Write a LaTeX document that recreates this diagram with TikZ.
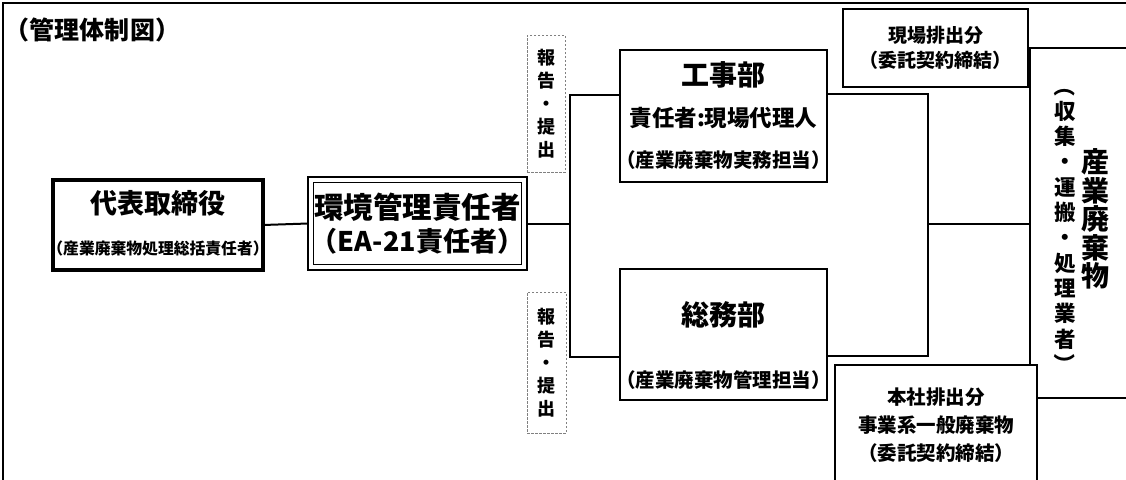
\documentclass[tikz,border=0pt]{standalone}
\usepackage{fontspec}
\usepackage{graphicx}
\setmainfont{Noto Sans CJK JP}
\newcommand{\setfs}[1]{\fontsize{#1}{#1}\selectfont}
\newcommand{\vparen}[1]{\rotatebox[origin=c]{-90}{#1}}
\begin{document}
\begin{tikzpicture}[x=1pt,y=-1pt,
  box/.style={draw, line width=2pt, inner sep=0pt, outer sep=0pt, fill=white},
  conn/.style={line width=2pt},
  txt/.style={inner sep=0pt, outer sep=0pt, align=center},
  rep/.style={draw=gray, dash pattern=on 2.5pt off 1.5pt, line width=1pt, inner sep=0pt, outer sep=0pt},
]
\useasboundingbox (0,0) rectangle (1126,479);
\clip (0,0) rectangle (1126,479);
% outer frame
\draw[line width=2pt] (3,485) -- (3,3) -- (1130,3);
% title
\node[txt, anchor=west, font=\bfseries\setfs{25}] (title) at (5,30) {（管理体制図）};
% 代表取締役
\node[box, line width=3.5pt, minimum width=210pt, minimum height=90pt] (A) at (158,225) {};
\node[txt, font=\bfseries\setfs{27}] (Aa) at (158,203) {代表取締役};
\node[txt, font=\bfseries\setfs{15.8}] (Ab) at (158,248) {（産業廃棄物処理総括責任者）};
% 環境管理責任者
\node[box, minimum width=219pt, minimum height=93pt] (B) at (417.5,223.5) {};
\node[draw, line width=1.5pt, inner sep=0pt, minimum width=208pt, minimum height=82pt] (Bi) at (B.center) {};
\node[txt, font=\bfseries\setfs{29.5}] (Ba) at (417.5,207) {環境管理責任者};
\node[txt, font=\bfseries\setfs{27}] (Bb) at (417.5,241) {（EA-21責任者）};
% 工事部
\node[box, minimum width=207pt, minimum height=132pt] (C) at (723.5,116) {};
\node[txt, font=\bfseries\setfs{28}] (Ca) at (723.5,75) {工事部};
\node[txt, font=\bfseries\setfs{22.5}] (Cb) at (723.5,118) {責任者:現場代理人};
\node[txt, font=\bfseries\setfs{19.5}] (Cc) at (723.5,160) {（産業廃棄物実務担当）};
% 総務部
\node[box, minimum width=207pt, minimum height=131pt] (D) at (723.5,334.5) {};
\node[txt, font=\bfseries\setfs{28}] (Da) at (723.5,315) {総務部};
\node[txt, font=\bfseries\setfs{19.5}] (Db) at (723.5,380) {（産業廃棄物管理担当）};
% 報告・提出
\node[rep, minimum width=38pt, minimum height=137pt] (H1) at (546,103.5) {};
\node[txt, font=\bfseries\fontsize{18}{23}\selectfont] (H1t) at (H1.center) {報\\告\\・\\提\\出};
\node[rep, minimum width=39pt, minimum height=141pt] (H2) at (546.5,362.5) {};
\node[txt, font=\bfseries\fontsize{18}{23}\selectfont] (H2t) at (H2.center) {報\\告\\・\\提\\出};
% 産業廃棄物業者
\node[box, minimum width=130pt, minimum height=350pt] (F) at (1095,223) {};
\node[txt, font=\bfseries\fontsize{21.5}{25.3}\selectfont] (Fa) at (1065,225) {\vparen{（}\\収\\集\\・\\運\\搬\\・\\処\\理\\業\\者\\\vparen{）}};
\node[txt, font=\bfseries\fontsize{28}{28.5}\selectfont] (Fb) at (1095,219) {産\\業\\廃\\棄\\物};
% 現場排出分
\node[box, minimum width=185pt, minimum height=78pt] (E) at (935.5,48) {};
\node[txt, font=\bfseries\fontsize{19}{25}\selectfont] (Et) at (E.center) {現場排出分\\（委託契約締結）};
% 本社排出分
\node[box, minimum width=202pt, minimum height=130pt] (G) at (936,430) {};
\node[txt, font=\bfseries\fontsize{19.5}{28}\selectfont] (Gt) at (936,425) {本社排出分\\事業系一般廃棄物\\（委託契約締結）};
% connectors
\draw[conn] (A.east) -- (B.west);
\coordinate (bus) at (570,223.5);
\coordinate (busT) at (570,95);
\coordinate (busB) at (570,357);
\draw[conn] (B.east) -- (bus);
\draw[conn] (busT -| C.west) -- (busT) -- (busB) -- (busB -| D.west);
\coordinate (rT) at (928,94);
\coordinate (rB) at (928,356);
\coordinate (rM) at (928,224);
\draw[conn] (rT -| C.east) -- (rT) -- (rB) -- (rB -| D.east);
\draw[conn] (rM) -- (rM -| F.west);
\end{tikzpicture}
\end{document}
